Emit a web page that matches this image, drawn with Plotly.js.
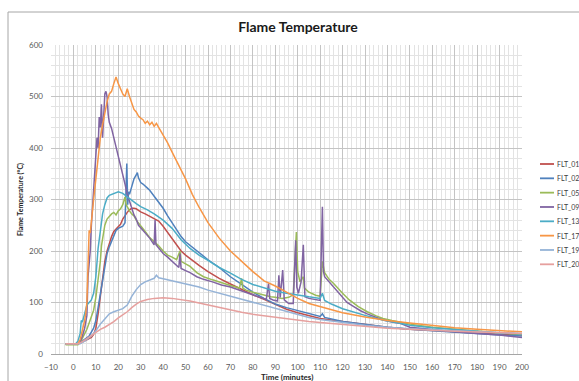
<!DOCTYPE html>
<html>
<head>
<meta charset="utf-8">
<script src="https://cdn.plot.ly/plotly-3.0.1.min.js"></script>
<style>html,body{margin:0;padding:0;background:#fff;}#chart{width:579px;height:381px;}</style>
</head>
<body>
<div id="chart"></div>
<script>
// ---- Data ----
const seriesNames = ["FLT_01","FLT_02","FLT_05","FLT_09","FLT_13","FLT_17","FLT_19","FLT_20"];
const seriesColors = ["#C0504D","#4F81BD","#9BBB59","#8064A2","#4BACC6","#F79646","#95B3D7","#E6A09E"];

const t01 = [-3.5,2,4,6,8,9,10,11,12,13,14,15,16,17,18,19,20,21,22,23,24,25,26,27,28,29,30,32,34,36,38,40,42,44,46,48,50,52,56,60,65,70,75,80,85,90,95,100,105,110,120,130,140,150,160,170,180,190,200];
const v01 = [20,20,23,27,32,38,50,78,115,150,180,200,215,228,238,243,248,252,262,270,275,280,283,283,282,279,276,272,267,263,258,248,236,222,210,200,192,185,172,160,147,136,125,115,106,96,87,80,74,69,63,57,52,48,45,43,41,39,37];

const t02 = [-3.5,2,3,5,7,9,10,11,12,13,14,15,16,17,18,19,20,21,22,23,23.8,24.2,24.6,25,26,27,28,28.5,29,30,31,32,33,34,35,36,37,38,40,42,44,46,48,50,55,60,65,70,75,80,85,90,95,100,105,110,111,112,120,130,140,150,160,170,180,190,200];
const v02 = [20,20,22,28,35,50,65,90,115,140,170,195,208,220,232,240,244,246,248,255,370,290,315,310,328,340,348,352,342,333,330,325,322,318,312,305,300,295,283,268,255,242,228,218,200,183,168,150,135,120,108,97,90,84,79,73,78,71,63,57,52,48,45,42,39,37,35];

const t05 = [-3.5,2,3,4,5,6,7,8,9,10,11,12,12.5,13,14,15,16,17,18,19,20,21,22,23,23.5,24,25,26,27,28,29,30,32,34,36,38,40,42,44,46,47.5,48,50,52,55,58,62,66,70,74,75,75.5,77,80,85,88,90,93,96,98,99.4,100,101,102.5,103,105,108,110,111,111.5,112,114,116,120,123,127,131,135,138,142,146,150,160,170,180,190,200];
const v05 = [18,18,22,30,40,48,60,72,85,110,140,180,210,225,250,262,268,272,275,270,278,282,290,305,290,285,278,272,268,260,255,250,238,226,218,210,200,192,188,183,200,180,175,170,158,150,144,138,133,128,147,128,124,120,114,111,110,108,110,115,237,160,140,150,128,120,114,112,180,165,158,145,137,118,105,92,82,74,69,65,62,58,52,48,44,41,38];

const t09 = [-3.5,2,3,4,5,6,6.5,7,7.5,8,8.5,9,9.5,10,10.5,11,11.5,12,12.5,13,13.5,14,14.5,15,15.5,16,17,18,19,20,21,22,23,24,25,26,27,28,29,30,32,34,36,36.4,36.8,38,40,42,44,46,47,47.5,48,50,52,55,58,62,66,70,74,77,80,84,86,87,87.5,89,91,91.6,92.2,93.3,94,96,98,99.1,99.6,100.3,101.5,102.5,103.2,105,108,110,111,111.5,112,114,116,118,120,122,125,128,131,135,138,142,146,150,160,170,180,190,200];
const v09 = [20,20,24,35,50,75,150,175,200,250,285,300,350,380,420,400,460,440,485,420,470,505,510,500,465,450,438,420,405,390,370,352,330,310,295,285,270,262,250,245,235,225,212,260,212,205,195,188,180,172,168,195,166,162,158,150,145,140,134,130,124,118,114,108,106,137,108,105,103,153,110,163,105,98,98,221,130,118,140,212,111,108,105,104,286,160,150,140,131,120,111,100,92,84,78,71,66,62,59,52,47,43,40,37,32];

const t13 = [-3.5,1,2,3,3.5,4,4.5,5,6,7,8,9,10,11,12,13,14,15,16,18,20,22,24,26,28,30,33,36,40,44,48,52,56,60,65,70,75,80,85,90,95,100,105,110,111,112,115,120,125,130,138,145,150,160,170,180,190,200];
const v13 = [20,20,25,40,65,62,70,80,95,100,105,118,150,205,245,272,290,303,308,312,315,312,305,299,292,286,280,272,260,244,222,205,192,182,168,157,145,135,128,122,118,114,111,108,118,104,97,88,81,75,66,60,56,51,47,44,41,39];

const t17 = [-3.5,2,3,4,5,5.5,6,6.5,7,7.5,8,9,10,11,12,13,14,15,16,17,18,19,20,21,22,23,24,25,26,27,28,29,30,31,32,33,34,35,36,37,38,40,42,44,46,48,50,53,56,60,65,70,75,80,85,90,95,100,105,110,115,120,130,140,150,160,170,180,190,200];
const v17 = [20,20,28,45,65,80,100,170,240,235,260,300,340,380,420,445,470,490,505,510,525,538,525,515,505,500,515,500,485,475,470,462,458,455,448,452,445,450,442,448,440,425,410,392,375,358,340,310,285,255,225,200,180,160,142,132,120,108,98,92,86,80,72,65,60,55,51,48,46,43];

const t19 = [-3.5,3,5,8,10,12,14,16,18,20,22,24,26,28,30,32,34,36,37,38,40,42,45,48,52,56,60,65,70,75,80,85,90,95,100,105,110,120,130,140,150,170,200];
const v19 = [20,20,25,35,45,58,68,78,82,85,88,95,112,125,135,140,144,147,153,148,146,144,141,139,135,130,124,118,112,107,101,94,88,82,76,71,67,61,56,52,49,45,40];

const t20 = [-3.5,2,4,6,8,10,12,14,16,18,20,22,24,26,28,30,33,36,40,44,48,52,56,60,65,70,75,80,85,90,95,100,105,110,120,130,140,150,170,200];
const v20 = [20,20,24,30,36,42,48,52,57,63,70,76,82,90,97,102,106,108,109,108,106,103,99,95,90,85,81,77,74,72,68,65,63,61,57,53,50,48,44,40];

const xTickVals = [-10,0,10,20,30,40,50,60,70,80,90,100,110,120,130,140,150,160,170,180,190,200];
const yTickVals = [0,100,200,300,400,500,600];

// ---- Build traces ----
const xs = [t01,t02,t05,t09,t13,t17,t19,t20];
const ys = [v01,v02,v05,v09,v13,v17,v19,v20];
const traces = seriesNames.map((n,i)=>({
  type:'scatter', mode:'lines', name:n, x:xs[i], y:ys[i],
  line:{color:seriesColors[i], width:1.5}, showlegend:false
}));

const W=579,H=381, L=51, R=57, T=45, B=27;
const pw = W-L-R, ph = H-T-B;
const px2x = p => (p-L)/pw;
const py2y = p => (H-B-p)/ph;

const shapes = [
  {type:'rect', xref:'paper', yref:'paper', x0:px2x(8), x1:px2x(590), y0:py2y(395), y1:py2y(12),
   line:{color:'#A6A6A6', width:1}, fillcolor:'rgba(0,0,0,0)', layer:'below'}
];
const annotations = [];
seriesNames.forEach((n,i)=>{
  const yy = py2y(164 + 14.33*i);
  shapes.push({type:'line', xref:'paper', yref:'paper', x0:px2x(540), x1:px2x(554), y0:yy, y1:yy,
    line:{color:seriesColors[i], width:1.8}});
  annotations.push({xref:'paper', yref:'paper', x:px2x(555.5), y:yy, text:n, showarrow:false,
    xanchor:'left', yanchor:'middle', borderpad:0,
    font:{family:'Lato, sans-serif', size:7, color:'#404040'}});
});
// x-axis title placed as annotation beneath tick labels
annotations.push({xref:'paper', yref:'paper', x:0.5, y:py2y(377), text:'<b>Time (minutes)</b>',
  showarrow:false, xanchor:'center', yanchor:'middle', borderpad:0,
  font:{family:'Lato, sans-serif', size:8, color:'#262626'}});

const layout = {
  width:W, height:H,
  margin:{l:L, r:R, t:T, b:B, pad:0},
  paper_bgcolor:'#fff', plot_bgcolor:'#fff',
  font:{family:'Lato, sans-serif', color:'#595959', size:8},
  title:{text:'<b>Flame Temperature</b>', x:298/W, xanchor:'center', y:1-27/H, yanchor:'middle',
    font:{family:'Lato, sans-serif', size:14, color:'#1a1a1a'}},
  xaxis:{range:[-10,200], tickvals:xTickVals, ticks:'', showgrid:true, gridcolor:'#C4C4C4', gridwidth:1,
    minor:{dtick:2, showgrid:true, gridcolor:'#E3E3E3', gridwidth:1},
    zeroline:false, showline:true, linecolor:'#A6A6A6', linewidth:1, mirror:false,
    ticklabelstandoff:5,
    tickfont:{size:8, color:'#595959'}},
  yaxis:{range:[0,600], tickvals:yTickVals, ticks:'', showgrid:true, gridcolor:'#C4C4C4', gridwidth:1,
    minor:{dtick:20, showgrid:true, gridcolor:'#E3E3E3', gridwidth:1},
    zeroline:false, showline:false,
    ticklabelstandoff:7,
    tickfont:{size:8, color:'#595959'},
    title:{text:'<b>Flame Temperature (°C)</b>', standoff:4, font:{size:7, color:'#262626'}}},
  shapes:shapes, annotations:annotations, showlegend:false
};

Plotly.newPlot('chart', traces, layout, {staticPlot:true, displayModeBar:false});
</script>
</body>
</html>
